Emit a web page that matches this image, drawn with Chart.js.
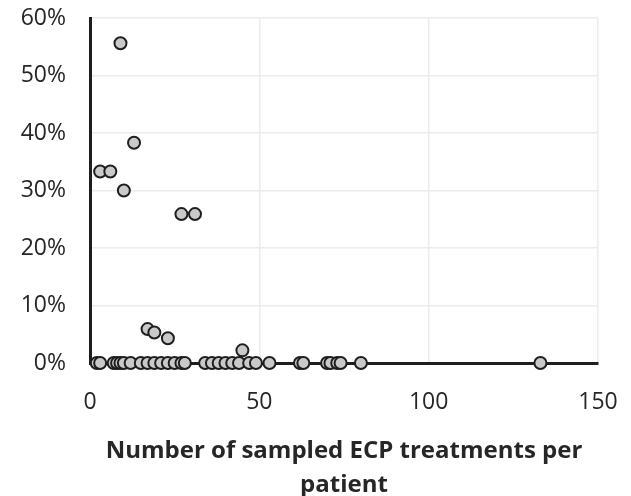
<!DOCTYPE html>
<html>
<head>
<meta charset="utf-8">
<script src="https://cdn.jsdelivr.net/npm/chart.js@4/dist/chart.umd.min.js"></script>
<style>
  html, body { margin: 0; padding: 0; background: #fff; }
  #wrap { width: 631px; height: 496px; }
</style>
</head>
<body>
<div id="wrap"><canvas id="scatter"></canvas></div>
<script>
// treatments per patient (x) and share of samples (%) (y)
const treatments = [9, 13, 3, 6, 10, 27, 31, 17, 19, 23, 45,
    2, 3, 7, 8, 9, 10, 12, 15, 17, 19, 21, 23, 25, 27, 28,
    34, 36, 38, 40, 42, 44, 47, 49, 53, 62, 63, 70, 71, 73, 74, 80, 133];
const sharePct = [55.6, 38.3, 33.3, 33.3, 30, 25.9, 25.9, 5.9, 5.3, 4.3, 2.2,
    0, 0, 0, 0, 0, 0, 0, 0, 0, 0, 0, 0, 0, 0, 0,
    0, 0, 0, 0, 0, 0, 0, 0, 0, 0, 0, 0, 0, 0, 0, 0, 0];
const xTitle = ['Number of sampled ECP treatments per', 'patient'];

document.addEventListener('DOMContentLoaded', function () {
    const ctx = document.getElementById('scatter').getContext('2d');
    const points = treatments.map((x, i) => ({ x: x, y: sharePct[i] }));

    new Chart(ctx, {
        type: 'scatter',
        data: {
            datasets: [{
                data: points,
                backgroundColor: '#c9c9c9',
                borderColor: '#1e1e1e',
                borderWidth: 2,
                pointRadius: 6,
                clip: false
            }]
        },
        options: {
            responsive: true,
            maintainAspectRatio: false,
            animation: false,
            layout: { padding: { top: 18, right: 33, left: 0, bottom: 0 } },
            plugins: { legend: { display: false }, tooltip: { enabled: false } },
            scales: {
                x: {
                    min: 0, max: 150,
                    ticks: { stepSize: 50, color: '#262626', padding: 26,
                        font: { family: 'Open Sans', size: 23 } },
                    grid: { color: '#ececec', lineWidth: 1.5, drawTicks: false },
                    border: { color: '#1e1e1e', width: 3 },
                    title: { display: true, text: xTitle, color: '#262626',
                        font: { family: 'Open Sans', size: 24, weight: 'bold', lineHeight: 1.4 },
                        padding: { top: 0, bottom: -6 } },
                    afterFit: function (s) {
                        s.height = 133;
                        s.paddingLeft = 0;
                        s.paddingRight = 0;
                    }
                },
                y: {
                    min: 0, max: 60,
                    ticks: { stepSize: 10, color: '#262626', padding: 24,
                        font: { family: 'Open Sans', size: 23 },
                        callback: v => v + '%' },
                    grid: { color: '#ececec', lineWidth: 1.5, drawTicks: false },
                    border: { color: '#1e1e1e', width: 3 },
                    afterFit: function (s) {
                        s.width = 90;
                        s.paddingTop = 0;
                        s.paddingBottom = 0;
                    }
                }
            }
        }
    });
});
</script>
</body>
</html>
